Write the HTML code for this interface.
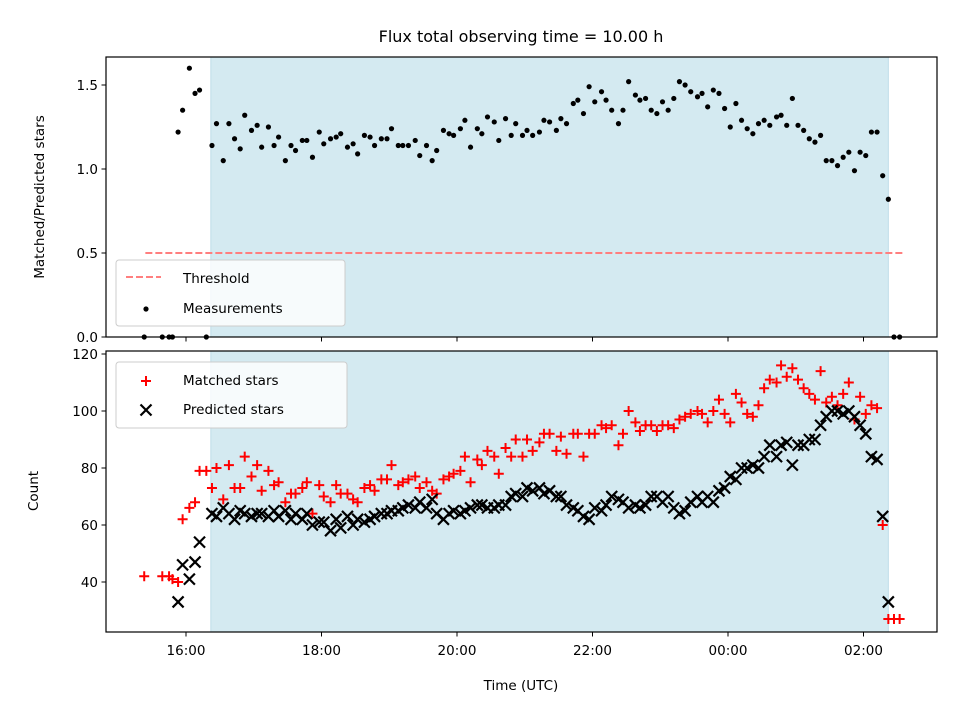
<!DOCTYPE html>
<html><head><meta charset="utf-8"><style>
html,body{margin:0;padding:0;background:#fff;}
svg{display:block;font-family:"DejaVu Sans","Liberation Sans",sans-serif;}
</style></head><body>
<svg id="chart" width="960" height="720" viewBox="0 0 960 720" xmlns="http://www.w3.org/2000/svg">
<rect x="0" y="0" width="960" height="720" fill="#fff"/>
<text x="521" y="42" font-size="16" text-anchor="middle">Flux total observing time = 10.00 h</text>
<g id="topPanel"></g>
<g id="botPanel"></g>
<text transform="translate(44,197) rotate(-90)" font-size="13.5" text-anchor="middle">Matched/Predicted stars</text>
<text transform="translate(38,491) rotate(-90)" font-size="13.5" text-anchor="middle">Count</text>
<text x="521" y="690" font-size="13.5" text-anchor="middle">Time (UTC)</text>
</svg>
<script>
// minutes since 16:00 UTC
const times = [-37,-21,-15,-12,-7,-3,3,8,12,18,
23,27,33,38,43,48,52,58,63,67,73,78,82,88,93,97,103,107,
112,118,122,128,133,137,143,148,152,158,163,167,173,
178,182,188,192,197,203,207,213,218,
222,228,233,237,243,247,252,258,262,
267,273,277,283,288,292,298,302,307,313,
317,322,328,332,337,343,347,352,357,
362,368,372,377,383,387,392,398,402,407,412,
417,422,427,432,437,442,447,453,457,462,467,
472,477,482,487,492,497,502,507,512,517,523,
527,532,537,542,547,552,557,562,567,572,577,
582,587,592,597,602,607,612,617,622,627,632];
const ratio = [0,0,0,0,1.22,1.35,1.60,1.45,1.47,0,
1.14,1.27,1.05,1.27,1.18,1.12,1.32,1.23,1.26,1.13,1.25,1.14,1.19,1.05,1.14,1.11,1.17,1.17,
1.07,1.22,1.15,1.18,1.19,1.21,1.13,1.15,1.09,1.20,1.19,1.14,1.18,
1.18,1.24,1.14,1.14,1.14,1.17,1.08,1.14,1.05,
1.11,1.23,1.21,1.20,1.24,1.29,1.13,1.24,1.21,
1.31,1.28,1.17,1.30,1.20,1.27,1.20,1.23,1.20,1.22,
1.29,1.28,1.23,1.30,1.27,1.39,1.41,1.33,1.49,
1.40,1.46,1.41,1.35,1.27,1.35,1.52,1.44,1.41,1.42,1.35,
1.33,1.40,1.35,1.42,1.52,1.50,1.46,1.43,1.45,1.37,1.47,
1.45,1.36,1.25,1.39,1.29,1.24,1.21,1.27,1.29,1.26,1.31,
1.32,1.26,1.42,1.26,1.23,1.18,1.16,1.20,1.05,1.05,1.02,
1.07,1.10,0.99,1.10,1.08,1.22,1.22,0.96,0.82,0,0];
const matched = [42,42,42,41,40,62,66,68,79,79,
73,80,69,81,73,73,84,77,81,72,79,74,75,68,71,71,73,75,
64,74,70,68,74,71,71,69,68,73,74,72,76,
76,81,74,75,76,77,73,75,72,
71,76,77,78,79,84,75,83,81,
86,84,78,87,84,90,84,90,86,89,
92,92,86,91,85,92,92,84,92,
92,95,94,95,88,92,100,96,93,95,95,
93,95,95,94,97,98,99,100,99,96,100,
104,99,96,106,103,99,98,102,108,111,110,
116,112,115,111,108,106,104,114,103,105,102,
106,110,97,105,99,102,101,60,27,27,27];
const predicted = [null,null,null,null,33,46,41,47,54,null,
64,63,66,64,62,65,64,63,64,64,63,65,63,65,62,64,62,64,
60,61,61,58,62,59,63,60,62,61,62,63,64,
64,65,65,66,67,66,68,66,69,
64,62,64,65,64,65,66,67,67,
66,66,67,67,70,71,70,73,72,73,
71,72,70,70,67,66,65,63,62,
66,65,67,70,69,68,66,67,66,67,70,
70,68,70,66,64,65,68,70,68,70,68,
72,73,77,76,80,80,81,80,84,88,84,
88,89,81,88,88,90,90,95,98,100,100,
99,100,98,95,92,84,83,63,33,null,null];
const xTicks = [0,120,240,360,480,600];
const xTickLabels = ["16:00","18:00","20:00","22:00","00:00","02:00"];
const topYTicks = [0,0.5,1.0,1.5];
const topYTickLabels = ["0.0","0.5","1.0","1.5"];
const botYTicks = [40,60,80,100,120];
const shadeRange = [22,622];
const thresholdValue = 0.5;
const thresholdRange = [-36,635];

const NS="http://www.w3.org/2000/svg";
const L=106,R=937;
const x=m=>186+m*(67.75/60);
const yT=v=>337-v*168;
const yB=v=>582-(v-40)*2.85;
function mk(p,tag,a){const e=document.createElementNS(NS,tag);for(const k in a)e.setAttribute(k,a[k]);p.appendChild(e);return e;}
const topG=document.getElementById('topPanel'), botG=document.getElementById('botPanel');

function panel(g,y0,y1,nm){
  const s=mk(g,'rect',{x:x(shadeRange[0]),y:y0,width:x(shadeRange[1])-x(shadeRange[0]),height:y1-y0,fill:'#d4eaf1',stroke:'#bfdde8','stroke-width':1});
  
  
}
panel(topG,57,337,'top');
panel(botG,351,632,'bottom');

const th=mk(topG,'line',{x1:x(thresholdRange[0]),x2:x(thresholdRange[1]),y1:yT(thresholdValue),y2:yT(thresholdValue),stroke:'#ff7f7f','stroke-width':2,'stroke-dasharray':'7,3'});



for(let i=0;i<times.length;i++){
  if(ratio[i]==null)continue;
  const c=mk(topG,'circle',{cx:x(times[i]),cy:yT(ratio[i]),r:2.6,fill:'#000'});
  
  
}
for(let i=0;i<times.length;i++){
  if(matched[i]==null)continue;
  const cx=x(times[i]),cy=yB(matched[i]);
  const p=mk(botG,'path',{d:`M${cx-5},${cy}H${cx+5}M${cx},${cy-5}V${cy+5}`,stroke:'#ff0000','stroke-width':2,fill:'none'});
  
  
}
for(let i=0;i<times.length;i++){
  if(predicted[i]==null)continue;
  const cx=x(times[i]),cy=yB(predicted[i]);
  const p=mk(botG,'path',{d:`M${cx-5.5},${cy-5.5}L${cx+5.5},${cy+5.5}M${cx-5.5},${cy+5.5}L${cx+5.5},${cy-5.5}`,stroke:'#000','stroke-width':2.2,fill:'none'});
  
  
}

function frame(g,y0,y1,nm,labels){
  const f=mk(g,'rect',{x:L,y:y0,width:R-L,height:y1-y0,fill:'none',stroke:'#000','stroke-width':1.2});
  
  
  xTicks.forEach((t,i)=>{
    const tk=mk(g,'line',{x1:x(t),x2:x(t),y1:y1,y2:y1+4.5,stroke:'#000','stroke-width':1});
    
    
    if(labels){
      const tx=mk(g,'text',{x:x(t),y:y1+23,'font-size':13.5,'text-anchor':'middle'});
      tx.textContent=xTickLabels[i];
      
      
    }
  });
}
frame(topG,57,337,'top',false);
frame(botG,351,632,'bottom',true);
topYTicks.forEach((v,i)=>{
  const tk=mk(topG,'line',{x1:L-4.5,x2:L,y1:yT(v),y2:yT(v),stroke:'#000','stroke-width':1});
  
  
  const t=mk(topG,'text',{x:L-8,y:yT(v)+5,'font-size':13.5,'text-anchor':'end'});
  t.textContent=topYTickLabels[i];
  
  
});
botYTicks.forEach(v=>{
  const tk=mk(botG,'line',{x1:L-4.5,x2:L,y1:yB(v),y2:yB(v),stroke:'#000','stroke-width':1});
  
  
  const t=mk(botG,'text',{x:L-8,y:yB(v)+5,'font-size':13.5,'text-anchor':'end'});
  t.textContent=String(v);
  
  
});

function legend(g,x0,y0,w,h,nm){
  const r=mk(g,'rect',{x:x0,y:y0,width:w,height:h,rx:3,fill:'#ffffff','fill-opacity':0.8,stroke:'#cccccc','stroke-width':1});
  
  
}
legend(topG,116,260,229,66,'top-legend');
const ld=mk(topG,'line',{x1:126,x2:161,y1:277,y2:277,stroke:'#ff7f7f','stroke-width':2,'stroke-dasharray':'7,3'});


const lt1=mk(topG,'text',{x:183,y:283,'font-size':13.5});lt1.textContent='Threshold';


const lc=mk(topG,'circle',{cx:146,cy:309,r:2.6,fill:'#000'});


const lt2=mk(topG,'text',{x:183,y:313,'font-size':13.5});lt2.textContent='Measurements';



legend(botG,116,362,231,66,'bottom-legend');
const lp=mk(botG,'path',{d:'M141,381H151M146,376V386',stroke:'#ff0000','stroke-width':2,fill:'none'});


const lt3=mk(botG,'text',{x:183,y:385,'font-size':13.5});lt3.textContent='Matched stars';


const lx=mk(botG,'path',{d:'M140.5,404.5L151.5,415.5M140.5,415.5L151.5,404.5',stroke:'#000','stroke-width':2.2,fill:'none'});


const lt4=mk(botG,'text',{x:183,y:414,'font-size':13.5});lt4.textContent='Predicted stars';


</script>
</body></html>
